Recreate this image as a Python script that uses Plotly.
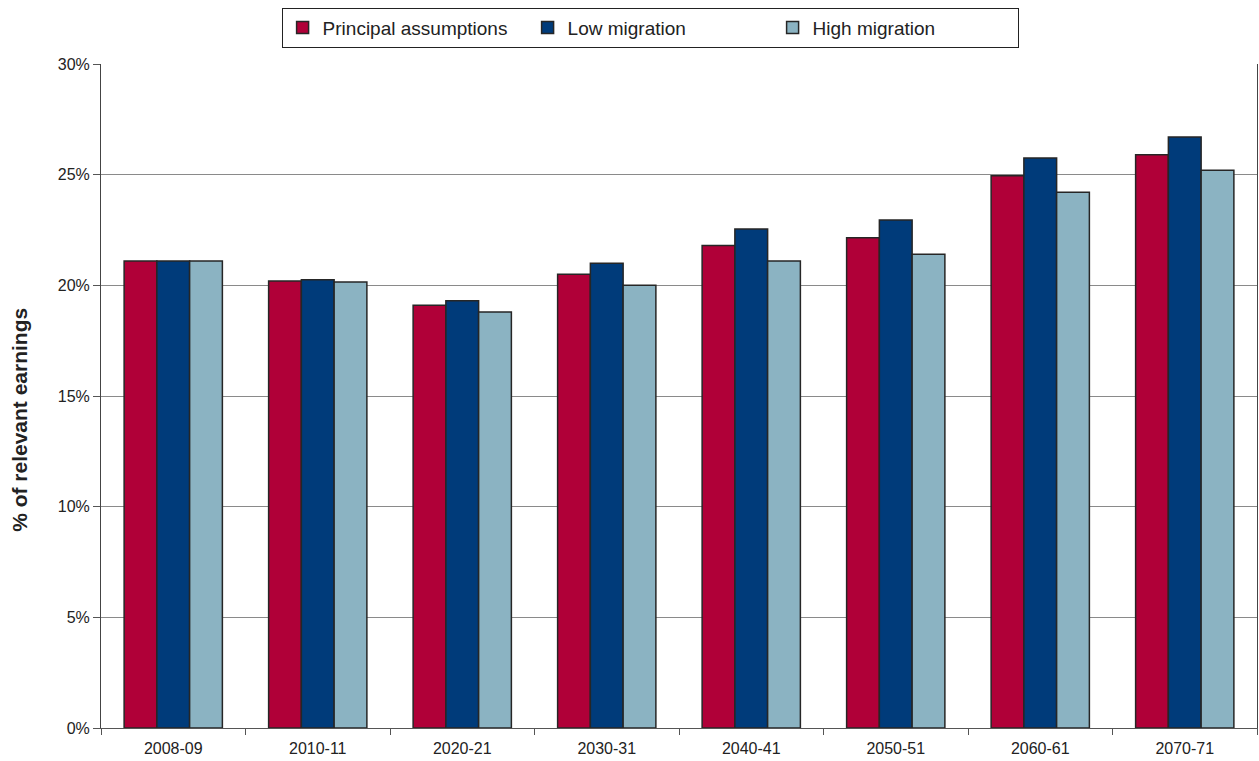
import plotly.graph_objects as go

years = ["2008-09", "2010-11", "2020-21", "2030-31", "2040-41", "2050-51", "2060-61", "2070-71"]
principal = [21.1, 20.2, 19.1, 20.5, 21.8, 22.15, 24.95, 25.9]
low_migration = [21.1, 20.25, 19.3, 21.0, 22.55, 22.95, 25.75, 26.7]
high_migration = [21.1, 20.15, 18.8, 20.0, 21.1, 21.4, 24.2, 25.2]

series = [
    ("Principal assumptions", principal, "#B00038"),
    ("Low migration", low_migration, "#003B7A"),
    ("High migration", high_migration, "#8BB3C2"),
]

fig = go.Figure()
for name, vals, color in series:
    fig.add_trace(go.Bar(
        x=years, y=vals, name=name,
        marker=dict(color=color, line=dict(color="#262626", width=1.5)),
    ))

font = "Liberation Sans, Arial, sans-serif"
fig.update_layout(
    width=1259, height=761,
    margin=dict(l=101, r=2, t=64, b=33),
    paper_bgcolor="white", plot_bgcolor="white",
    barmode="group", bargap=0.32, bargroupgap=0,
    font=dict(family=font, size=16, color="#222"),
    legend=dict(
        orientation="h", x=0.475, xanchor="center",
        y=0.99, yref="container", yanchor="top",
        bordercolor="#222", borderwidth=1, bgcolor="white",
        font=dict(size=19, color="#222"),
        entrywidth=200, itemwidth=30,
    ),
    yaxis=dict(
        range=[0, 30], tickvals=[0, 5, 10, 15, 20, 25, 30],
        ticktext=["0%", "5%", "10%", "15%", "20%", "25%", "30%"],
        showgrid=True, gridcolor="#8a8a8a", gridwidth=1,
        showline=True, linecolor="#444", linewidth=1, mirror=True,
        ticks="outside", ticklen=7, tickcolor="#555",
        zeroline=False,
        tickfont=dict(size=16),
    ),
    xaxis=dict(
        type="category",
        showline=True, linecolor="#555", linewidth=1,
        ticks="outside", tickson="boundaries", ticklen=6, tickcolor="#555",
        showgrid=False,
        tickfont=dict(size=16),
        ticklabelstandoff=6,
    ),
)

# Vertical axis title, placed slightly below the plot's mid-height
fig.add_annotation(
    text="<b>% of relevant earnings</b>", textangle=-90,
    xref="paper", yref="paper", x=-0.0701, y=0.464,
    xanchor="center", yanchor="middle", showarrow=False,
    font=dict(size=21, color="#222"),
)

fig.write_html("out.html")
